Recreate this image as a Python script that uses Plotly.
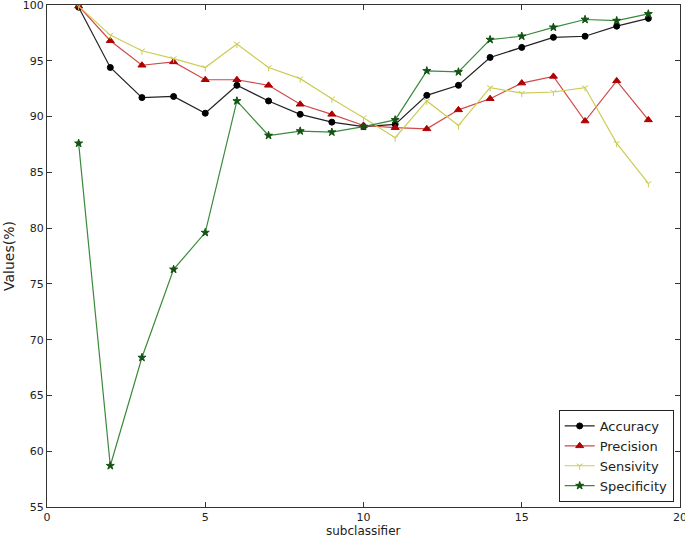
import plotly.graph_objects as go

# Data
subclassifier = list(range(1, 20))

accuracy = [99.8, 94.4, 91.7, 91.8, 90.3, 92.8, 91.4, 90.2, 89.5, 89.1,
            89.3, 91.9, 92.8, 95.3, 96.2, 97.1, 97.2, 98.1, 98.8]
precision = [99.9, 96.8, 94.6, 94.9, 93.3, 93.3, 92.8, 91.1, 90.2, 89.2,
             89.0, 88.9, 90.6, 91.6, 93.0, 93.6, 89.6, 93.2, 89.7]
sensitivity = [99.9, 97.3, 95.9, 95.2, 94.4, 96.5, 94.4, 93.4, 91.6, 89.9,
               88.1, 91.4, 89.2, 92.6, 92.1, 92.2, 92.6, 87.6, 84.0]
specificity = [87.6, 58.7, 68.4, 76.3, 79.6, 91.4, 88.3, 88.7, 88.6, 89.1,
               89.7, 94.1, 94.0, 96.9, 97.2, 98.0, 98.7, 98.6, 99.2]

series = [
    ("Accuracy", accuracy, "#222222", "#000000", "circle", 6),
    ("Precision", precision, "#d04848", "#b00000", "triangle-up", 7),
    ("Sensivity", sensitivity, "#cccc55", "#cccc55", "y-down-open", 5),
    ("Specificity", specificity, "#3a8a3a", "#145214", "star", 6),
]

fig = go.Figure()
for name, vals, lc, mc, sym, sz in series:
    fig.add_trace(go.Scatter(
        x=subclassifier, y=vals, name=name, mode="lines+markers",
        line=dict(color=lc, width=1.2),
        marker=dict(symbol=sym, size=sz, color=mc,
                    line=dict(color=mc, width=1)),
    ))

axis_common = dict(
    showline=True, linecolor="#333333", linewidth=1, mirror="allticks",
    ticks="inside", ticklen=5, tickcolor="#333333", showgrid=False,
    zeroline=False, tickfont=dict(size=11, color="#222222"),
    automargin=False, ticklabeloverflow="allow",
)

fig.update_layout(
    width=685, height=538,
    margin=dict(l=47, r=5, t=5, b=31),
    paper_bgcolor="white", plot_bgcolor="white",
    font=dict(family="DejaVu Sans", size=12, color="#222222"),
    xaxis=dict(range=[0, 20], dtick=5, **axis_common),
    yaxis=dict(range=[55, 100], dtick=5,
               title=dict(text="Values(%)", standoff=4), **axis_common),
    legend=dict(x=0.99, y=0.01, xanchor="right", yanchor="bottom",
                bordercolor="#222222", borderwidth=1, bgcolor="white",
                font=dict(size=13), tracegroupgap=0, itemwidth=30),
    showlegend=True,
)

# x-axis title as an annotation so it can sit a bit lower than the title slot allows
fig.add_annotation(text="subclassifier", xref="paper", yref="paper",
                   x=0.5, y=0, xanchor="center", yanchor="top", yshift=-15,
                   showarrow=False, font=dict(size=12, color="#222222"))

# drop the browser's default body margin so the figure sits at the page corner
fig.write_html("out.html", config={"displayModeBar": False},
               post_script="document.body.style.margin='0px';")
